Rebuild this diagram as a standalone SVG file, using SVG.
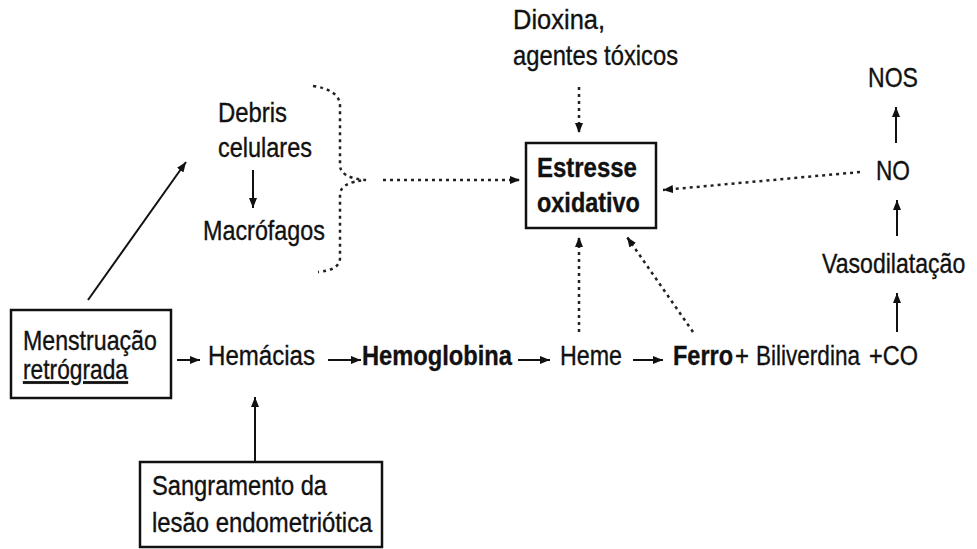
<svg xmlns="http://www.w3.org/2000/svg" width="977" height="549" viewBox="0 0 977 549">
<style>
text{font-family:"Liberation Sans",Arial,sans-serif;font-size:27px;fill:#111;stroke:#111;stroke-width:0.35;}
.b{font-weight:bold;}
.box{fill:none;stroke:#111;stroke-width:2.5;}
.s{fill:none;stroke:#111;stroke-width:2;}
.d{fill:none;stroke:#222;stroke-width:2.5;stroke-dasharray:3 4;}
</style>
<defs>
<marker id="ah" markerUnits="userSpaceOnUse" markerWidth="10" markerHeight="8" refX="10" refY="4" orient="auto">
<path d="M0,0 L10,4 L0,8 z" fill="#111"/>
</marker>
</defs>
<g id="menstruacao">
<rect class="box" x="11" y="310" width="160" height="88"/>
<text transform="translate(23 350) scale(0.858 1)">Menstruação</text>
<text transform="translate(23 379) scale(0.843 1)" text-decoration="underline">retrógrada</text>
</g>
<g id="hemacias"><text transform="translate(208 365) scale(0.892 1)">Hemácias</text></g>
<g id="hemoglobina"><text class="b" transform="translate(362 365) scale(0.877 1)">Hemoglobina</text></g>
<g id="heme"><text transform="translate(560 365) scale(0.861 1)">Heme</text></g>
<g id="ferro">
<text class="b" transform="translate(673 365) scale(0.87 1)">Ferro</text>
<text transform="translate(735 365) scale(0.887 1)">+</text>
<text transform="translate(756 365) scale(0.835 1)">Biliverdina</text>
<text transform="translate(869 365) scale(0.87 1)">+CO</text>
</g>
<g id="vasodilatacao"><text transform="translate(822 273) scale(0.855 1)">Vasodilatação</text></g>
<g id="no"><text transform="translate(876 180) scale(0.84 1)">NO</text></g>
<g id="nos"><text transform="translate(868 87) scale(0.855 1)">NOS</text></g>
<g id="estresse">
<rect class="box" x="526" y="143" width="130" height="85"/>
<text class="b" transform="translate(537 177) scale(0.888 1)">Estresse</text>
<text class="b" transform="translate(537 212) scale(0.869 1)">oxidativo</text>
</g>
<g id="dioxina">
<text transform="translate(513 29) scale(0.944 1)">Dioxina,</text>
<text transform="translate(513 65) scale(0.88 1)">agentes tóxicos</text>
</g>
<g id="debris">
<text transform="translate(218 122) scale(0.885 1)">Debris</text>
<text transform="translate(218 157) scale(0.87 1)">celulares</text>
</g>
<g id="macrofagos"><text transform="translate(203 240) scale(0.865 1)">Macrófagos</text></g>
<g id="sangramento">
<rect class="box" x="140" y="462" width="242" height="85"/>
<text transform="translate(152 495) scale(0.877 1)">Sangramento da</text>
<text transform="translate(152 532) scale(0.885 1)">lesão endometriótica</text>
</g>
<g id="connectors">
<path class="s" d="M88,300 L186,162" marker-end="url(#ah)"/>
<path class="s" d="M253,170 L253,208" marker-end="url(#ah)"/>
<path class="s" d="M255,462 L255,397" marker-end="url(#ah)"/>
<path class="s" d="M177,360 L200,360" marker-end="url(#ah)"/>
<path class="s" d="M328,360 L361,360" marker-end="url(#ah)"/>
<path class="s" d="M518,360 L550,360" marker-end="url(#ah)"/>
<path class="s" d="M633,360 L663,360" marker-end="url(#ah)"/>
<path class="s" d="M897,332 L897,293" marker-end="url(#ah)"/>
<path class="s" d="M897,236 L897,200" marker-end="url(#ah)"/>
<path class="s" d="M896,143 L896,107" marker-end="url(#ah)"/>
<path class="d" d="M313,86 Q340,90 340,106 L340,165 Q340,178 366,180 Q340,182 340,195 L340,258 Q340,270 318,272"/>
<path class="d" d="M383,180 L520,180" marker-end="url(#ah)"/>
<path class="d" d="M579,87 L579,133" marker-end="url(#ah)"/>
<path class="d" d="M579,332 L579,237" marker-end="url(#ah)"/>
<path class="d" d="M693,332 L627,237" marker-end="url(#ah)"/>
<path class="d" d="M860,172 L663,190" marker-end="url(#ah)"/>
</g>
</svg>
